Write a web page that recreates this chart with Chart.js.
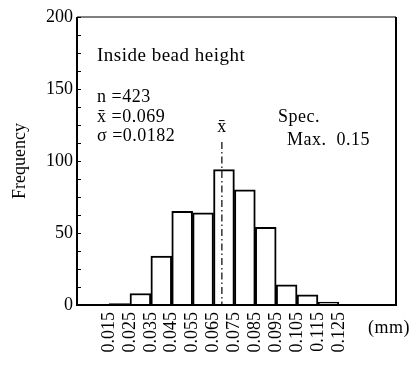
<!DOCTYPE html>
<html>
<head>
<meta charset="utf-8">
<script src="https://cdn.jsdelivr.net/npm/chart.js@4/dist/chart.umd.min.js"></script>
<style>
  html, body { margin: 0; padding: 0; background: #fff; }
  #wrap { width: 409px; height: 369px; }
</style>
</head>
<body>
<div id="wrap"><canvas id="c" width="409" height="369"></canvas></div>
<script>
// ---- data ----
const binCenters = [0.02, 0.03, 0.04, 0.05, 0.06, 0.07, 0.08, 0.09, 0.10, 0.11, 0.12];
const counts = [1, 8, 34, 65, 64, 94, 80, 54, 14, 7, 2];
const edgeTicks = [0.015, 0.025, 0.035, 0.045, 0.055, 0.065, 0.075, 0.085, 0.095, 0.105, 0.115, 0.125];
const yTicks = [0, 50, 100, 150, 200];
const yMinorStep = 12.5;
const meanValue = 0.069;
const statsLines = ["n =423", "x\u0304 =0.069", "\u03c3 =0.0182"];
const titleText = "Inside bead height";
const specLines = ["Spec.", "Max.  0.15"];
const unitText = "(mm)";

const FONT = "'Liberation Serif', 'DejaVu Serif', serif";

const decor = {
  id: 'decor',
  afterDraw(chart) {
    const ctx = chart.ctx;
    const ca = chart.chartArea;
    const xs = chart.scales.x, ys = chart.scales.y;
    ctx.save();
    ctx.strokeStyle = '#000';
    // frame
    ctx.lineWidth = 2;
    ctx.beginPath();
    ctx.moveTo(ca.left, ca.top);
    ctx.lineTo(ca.left, ca.bottom);
    ctx.lineTo(ca.right, ca.bottom);
    ctx.lineTo(ca.right, ca.top);
    ctx.stroke();
    ctx.lineWidth = 1.2;
    ctx.beginPath();
    ctx.moveTo(ca.left, ca.top);
    ctx.lineTo(ca.right, ca.top);
    ctx.stroke();
    // inward minor ticks on y axis
    ctx.lineWidth = 1;
    for (let v = 0; v <= ys.max; v += yMinorStep) {
      const py = Math.round(ys.getPixelForValue(v)) + 0.5;
      ctx.beginPath();
      ctx.moveTo(ca.left, py);
      ctx.lineTo(ca.left + 4, py);
      ctx.stroke();
    }
    // mean line (dash-dot)
    const mx = xs.getPixelForValue(meanValue);
    ctx.lineWidth = 1.2;
    ctx.setLineDash([7, 3, 1.5, 3]);
    ctx.beginPath();
    ctx.moveTo(mx, 142);
    ctx.lineTo(mx, ca.bottom);
    ctx.stroke();
    ctx.setLineDash([]);
    // text
    ctx.fillStyle = '#000';
    ctx.textBaseline = 'alphabetic';
    ctx.textAlign = 'left';
    if ('letterSpacing' in ctx) ctx.letterSpacing = '0.5px';
    ctx.font = "19px " + FONT;
    ctx.fillText(titleText, 97, 61);
    ctx.font = "18px " + FONT;
    const sy = [102, 122, 141];
    statsLines.forEach((t, i) => ctx.fillText(t, 97, sy[i]));
    ctx.fillText(specLines[0], 278, 122);
    ctx.fillText(specLines[1], 287, 145);
    ctx.textAlign = 'center';
    ctx.fillText("x\u0304", mx, 132);
    ctx.textAlign = 'left';
    ctx.fillText(unitText, 368, 333);
    ctx.restore();
  }
};

new Chart(document.getElementById('c'), {
  type: 'bar',
  data: {
    datasets: [{
      data: binCenters.map((x, i) => ({ x: x, y: counts[i] })),
      backgroundColor: '#fff',
      borderColor: '#000',
      borderWidth: 2,
      borderSkipped: 'start',
      barPercentage: 1,
      categoryPercentage: 1
    }]
  },
  options: {
    responsive: false,
    animation: false,
    devicePixelRatio: 1,
    layout: { padding: { top: 17, right: 13, left: 0, bottom: 0 } },
    plugins: { legend: { display: false }, tooltip: { enabled: false } },
    scales: {
      x: {
        type: 'linear',
        min: 0.006,
        max: 0.146,
        grid: { display: false, drawTicks: false },
        border: { display: false },
        afterBuildTicks: s => { s.ticks = edgeTicks.map(v => ({ value: v })); },
        afterFit: s => { s.height = 64; },
        ticks: {
          autoSkip: false,
          minRotation: 90,
          maxRotation: 90,
          padding: 7,
          color: '#000',
          font: { family: FONT, size: 18 },
          callback: v => Number(v).toFixed(3)
        }
      },
      y: {
        min: 0,
        max: 200,
        grid: { display: false, drawTicks: false },
        border: { display: false },
        afterBuildTicks: s => { s.ticks = yTicks.map(v => ({ value: v })); },
        afterFit: s => { s.width = 77; },
        ticks: {
          padding: 4,
          color: '#000',
          font: { family: FONT, size: 18 }
        },
        title: {
          display: true,
          text: 'Frequency',
          color: '#000',
          padding: { top: 9, bottom: 0 },
          font: { family: FONT, size: 18 }
        }
      }
    }
  },
  plugins: [decor]
});
</script>
</body>
</html>
